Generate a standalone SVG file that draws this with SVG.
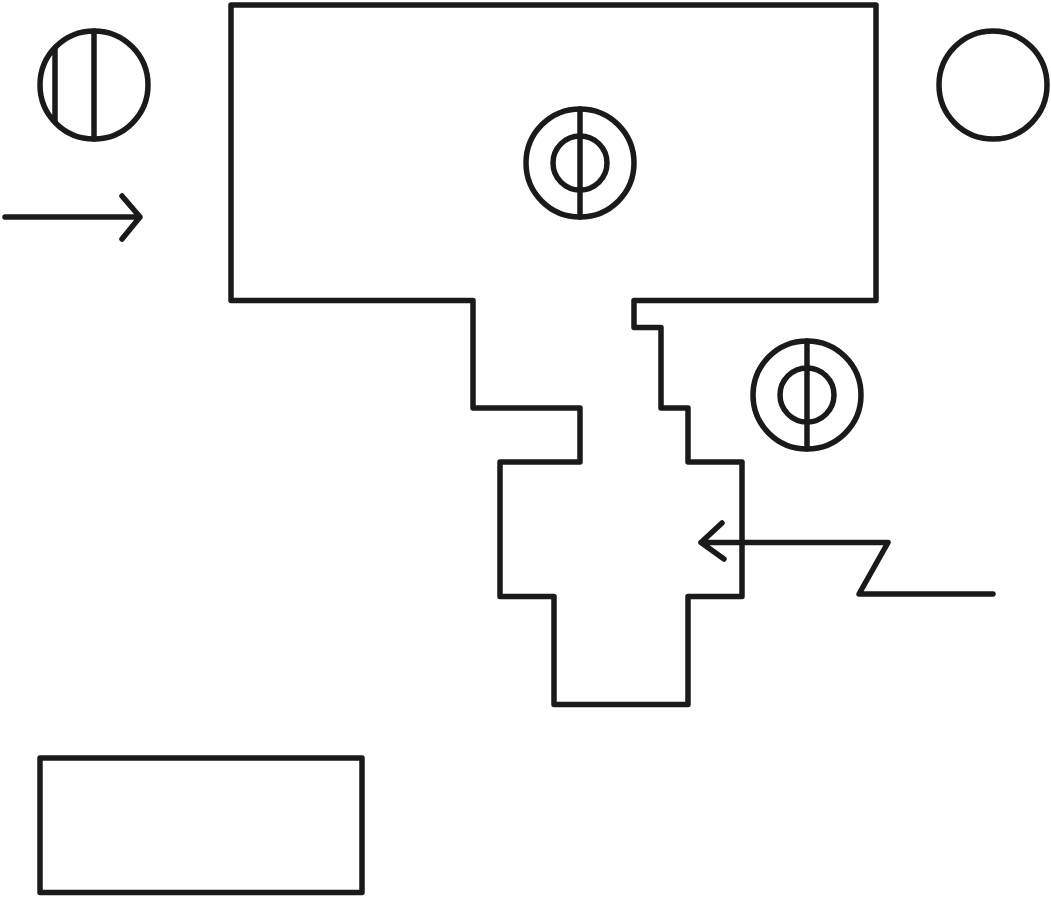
<svg xmlns="http://www.w3.org/2000/svg" width="1051" height="897" viewBox="0 0 1051 897">
<style>.s{fill:none;stroke:#1a1a1a;stroke-width:5.500;stroke-linejoin:round;stroke-linecap:round}</style>
<rect width="1051" height="897" fill="#fff"/>
<g class="s">
<path id="outline" d="M231 5H876V300.500H634V327.500H661V408H688V462H742V596.500H688V704.500H554V596.500H500V462H580V408H473V300.500H231Z"/>
<rect id="box" x="40" y="758" width="322" height="134.500"/>
<circle id="circle-plain" cx="993" cy="85" r="54"/>
<g id="circle-lines"><circle cx="94" cy="85" r="54"/><path d="M94 31V139M55 49V121"/></g>
<g id="ring-top"><circle cx="580" cy="163" r="54"/><circle cx="580" cy="163" r="27"/><path d="M580 109V217"/></g>
<g id="ring-right"><circle cx="807" cy="395" r="54"/><circle cx="807" cy="395" r="27"/><path d="M807 341V449"/></g>
<path id="arrow-left" d="M5 217H140M122 196L140 217L122 239"/>
<path id="arrow-zigzag" d="M993 594H859L888 542.500H701M722 523L701 542.500L724 559"/>
</g>
</svg>
